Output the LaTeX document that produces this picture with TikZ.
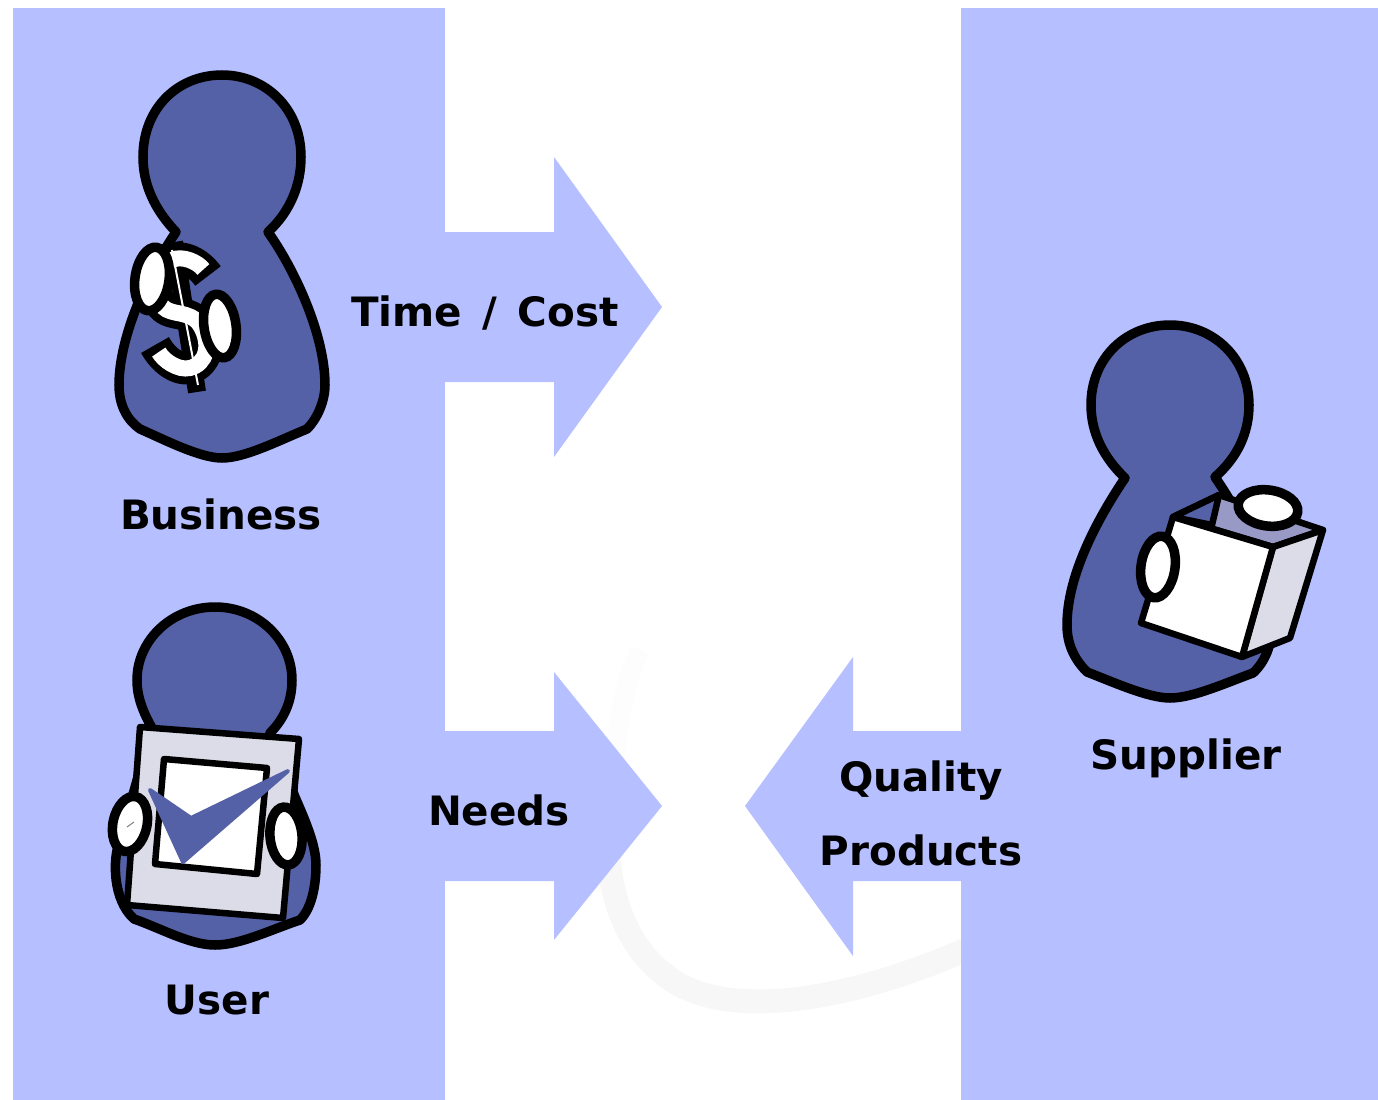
\documentclass[tikz,border=0pt]{standalone}
\usepackage{fontspec}
\setmainfont{DejaVu Sans}
\usepackage{tikz}
\definecolor{panel}{RGB}{182,191,255}
\definecolor{figure}{RGB}{85,97,166}
\definecolor{paper}{RGB}{220,220,232}
\definecolor{lid}{RGB}{153,153,198}
\definecolor{trace}{RGB}{247,247,247}
\definecolor{tracefaint}{RGB}{253,253,253}
\newcommand{\dollarcurve}{(208,276) .. controls (198,262) and (182,255) .. (172,260) .. controls (155,265) and (150,292) .. (163,307) .. controls (172,316) and (190,310) .. (200,325) .. controls (212,345) and (206,364) .. (190,368) .. controls (178,371) and (163,360) .. (155,345)}
\begin{document}
\begin{tikzpicture}[x=0.01cm,y=-0.01cm,
  body/.style={draw=black,fill=figure,line width=0.095cm,line join=round},
  hand/.style={draw=black,fill=white,line width=0.095cm},
  sheet/.style={draw=black,line width=0.065cm,line join=round},
  caption/.style={inner sep=0pt,anchor=base,font=\fontsize{11.5}{14}\selectfont\bfseries}]

\useasboundingbox (0,0) rectangle (1378,1100);

% faint trace behind the arrows
\draw[tracefaint,line width=0.2cm] (640,650) .. controls (620,690) and (612,760) .. (608,850);
\draw[trace,line width=0.24cm] (608,830) .. controls (606,890) and (625,945) .. (665,975) .. controls (720,1020) and (840,1005) .. (970,948);

% panels and arrows
\fill[panel] (13,8) rectangle (445,1100);
\fill[panel] (961,8) rectangle (1378,1100);
\fill[panel] (445,232) -- (554,232) -- (554,157) -- (662,307) -- (554,457) -- (554,382) -- (445,382) -- cycle;
\fill[panel] (445,731) -- (554,731) -- (554,672) -- (662,806) -- (554,940) -- (554,881) -- (445,881) -- cycle;
\fill[panel] (961,731) -- (853,731) -- (853,657) -- (745,806) -- (853,956) -- (853,881) -- (961,881) -- cycle;

% business
\draw[body] (268,232) .. controls (290,212) and (301,185) .. (301,157) .. controls (301,108) and (265,75) .. (222,75) .. controls (178,75) and (143,108) .. (143,157) .. controls (143,185) and (155,210) .. (176,232) .. controls (150,270) and (119,335) .. (119,385) .. controls (119,405) and (127,420) .. (140,429) .. controls (165,440) and (200,458) .. (222,458) .. controls (245,458) and (280,440) .. (307,429) .. controls (318,418) and (325,400) .. (325,385) .. controls (325,335) and (295,270) .. (268,232) -- cycle;
\draw[black,line width=0.18cm] (174,242) -- (197,392);
\draw[black,line width=0.32cm,line join=round] \dollarcurve;
\draw[white,line width=0.16cm,shorten <=0.08cm,shorten >=0.08cm] \dollarcurve;
\draw[white,line width=0.02cm] (172,250) -- (198,385);
\draw[hand] (152,279) ellipse [x radius=17,y radius=32,rotate=-8];
\draw[hand] (220,326) ellipse [x radius=16,y radius=32,rotate=8];

% user
\draw[body] (270,733) .. controls (285,718) and (292,700) .. (292,680) .. controls (292,640) and (258,607) .. (215,607) .. controls (172,607) and (137,640) .. (137,680) .. controls (137,697) and (143,712) .. (152,728) -- (120,840) .. controls (112,860) and (113,900) .. (134,919) .. controls (160,928) and (190,945) .. (215,945) .. controls (240,945) and (270,930) .. (300,920) .. controls (312,908) and (316,885) .. (316,865) .. controls (316,845) and (305,820) .. (295,797) -- cycle;
\draw[sheet,fill=paper] (140,727) -- (299,739) -- (283,918) -- (127,905) -- cycle;
\draw[sheet,fill=white] (164,759) -- (267,768) -- (257,874) -- (155,864) -- cycle;
\draw[draw=figure,fill=figure,line width=0.04cm,line join=round] (150,790) -- (191,818) -- (288,771) -- (183,862) -- cycle;
\draw[hand] (130,824) ellipse [x radius=17,y radius=28,rotate=-12];
\draw[hand] (286,836) ellipse [x radius=16,y radius=29,rotate=5];
\draw[gray,line width=0.01cm] (127,827) -- (134,822);

% supplier
\draw[body] (1215,477) .. controls (1238,457) and (1249,432) .. (1249,405) .. controls (1249,358) and (1213,325) .. (1170,325) .. controls (1126,325) and (1091,358) .. (1091,405) .. controls (1091,432) and (1103,457) .. (1125,478) .. controls (1098,518) and (1067,575) .. (1067,625) .. controls (1067,645) and (1075,660) .. (1087,672) .. controls (1113,682) and (1148,698) .. (1170,698) .. controls (1193,698) and (1228,682) .. (1253,673) .. controls (1265,662) and (1272,645) .. (1272,625) .. controls (1272,575) and (1243,518) .. (1215,477) -- cycle;
\draw[sheet,fill=lid] (1173,517) -- (1219,495) -- (1323,530) -- (1273,547) -- cycle;
\draw[sheet,fill=figure] (1173,517) -- (1219,495) -- (1212,525) -- cycle;
\draw[sheet,fill=paper] (1273,547) -- (1323,530) -- (1290,638) -- (1242,657) -- cycle;
\draw[sheet,fill=white] (1173,517) -- (1273,547) -- (1242,657) -- (1141,623) -- cycle;
\draw[hand] (1268,508) ellipse [x radius=30,y radius=18,rotate=-8];
\draw[hand] (1158,567) ellipse [x radius=17,y radius=31,rotate=-8];

% labels
\node[caption] (business) at (221,529) {Business};
\node[caption] (timecost) at (485,326) {Time\hspace{0.065cm} / \hspace{0.065cm}Cost};
\node[caption] (needs) at (499,825) {Needs};
\node[caption] (user) at (217,1014) {User};
\node[caption] (quality) at (921,791) {Quality};
\node[caption] (products) at (921,865) {Products};
\node[caption] (supplier) at (1186,769) {Supplier};
\end{tikzpicture}
\end{document}
